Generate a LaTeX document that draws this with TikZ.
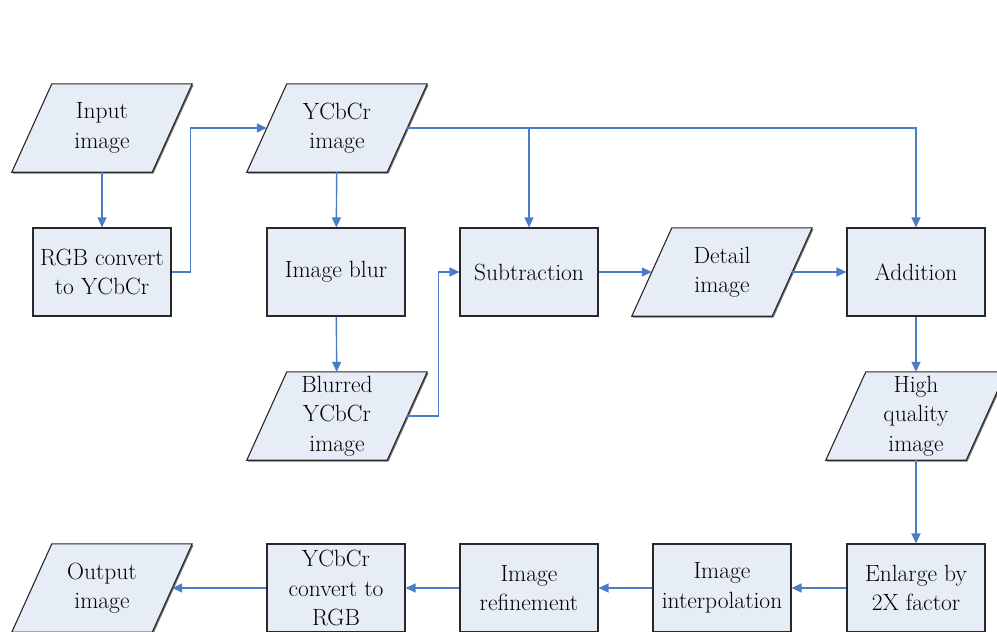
\documentclass[tikz,border=0pt]{standalone}
\usetikzlibrary{arrows.meta,calc,shadows}

\definecolor{boxfill}{RGB}{231,237,247}
\definecolor{linkblue}{RGB}{74,124,200}
\definecolor{edgegray}{RGB}{40,40,40}

\tikzset{
  labelfont/.style={font=\rmfamily\fontsize{23.5}{29.5}\selectfont},
  boxshadow/.style={drop shadow={shadow xshift=1.3pt,shadow yshift=-1.3pt,fill=black!55,opacity=1}},
  procbox/.style={rectangle, draw=edgegray, line width=1.1pt, fill=boxfill,
    minimum width=138pt, minimum height=88pt, inner sep=0pt, align=center,
    labelfont, boxshadow},
  ioframe/.style={rectangle, minimum width=140pt, minimum height=88pt, inner sep=0pt},
  iooutline/.style={draw=edgegray, line width=1.1pt, fill=boxfill, line join=miter, boxshadow},
  iolabel/.style={align=center, inner sep=0pt, labelfont},
  link/.style={draw=linkblue, line width=1.4pt, -{Triangle[length=10pt,width=9pt]}},
}

% data (input/output) symbol: a slanted parallelogram with a named frame
\newcommand\iobox[4]{%
  \node[ioframe] (#1) at (#2,#3) {};
  \path[iooutline] ($(#1.south west)+(-20,0)$) -- ($(#1.south east)+(-20,0)$)
    -- ($(#1.north east)+(20,0)$) -- ($(#1.north west)+(20,0)$) -- cycle;
  \node[iolabel] (#1-text) at (#1) {#4};
}

\begin{document}
\begin{tikzpicture}[x=1pt,y=-1pt]
  \useasboundingbox (0,0) rectangle (997,632);

  % first row
  \iobox{inp}{102}{128}{Input\\image}
  \iobox{ycc}{337}{128}{YCbCr\\image}

  % second row
  \node[procbox] (rgb) at (102,272) {RGB convert\\to YCbCr};
  \node[procbox] (blur) at (336,272) {Image blur};
  \node[procbox] (sub) at (529,272) {Subtraction};
  \iobox{det}{722}{272}{Detail\\image}
  \node[procbox] (add) at (916,272) {Addition};

  % third row
  \iobox{blr}{337}{416}{Blurred\\YCbCr\\image}
  \iobox{hq}{916}{416}{High\\quality\\image}

  % last row
  \iobox{out}{102}{588}{Output\\image}
  \node[procbox] (y2r) at (336,588) {YCbCr\\convert to\\RGB};
  \node[procbox] (ref) at (529,588) {Image\\refinement};
  \node[procbox] (itp) at (722,588) {Image\\interpolation};
  \node[procbox] (enl) at (916,588) {Enlarge by\\2X factor};

  % connectors
  \draw[link] (inp) -- (rgb);
  \draw[link] (rgb.east) -- ++(19,0) |- (ycc.west);
  \draw[link] (ycc) -- (blur);
  \draw[link] (ycc.east) -| (sub.north);
  \draw[link] (ycc.east) -| (add.north);
  \draw[link] (blur) -- (blr);
  \draw[link] (blr.east) -- ++(31,0) |- (sub.west);
  \draw[link] (sub) -- (det);
  \draw[link] (det) -- (add);
  \draw[link] (add) -- (hq);
  \draw[link] (hq) -- (enl);
  \draw[link] (enl) -- (itp);
  \draw[link] (itp) -- (ref);
  \draw[link] (ref) -- (y2r);
  \draw[link] (y2r) -- (out);
\end{tikzpicture}
\end{document}
